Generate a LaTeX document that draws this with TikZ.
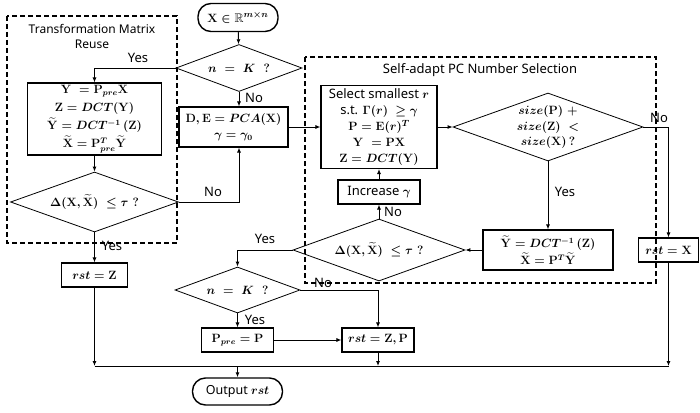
\documentclass[tikz,border=0pt]{standalone}
\usepackage{amsmath,amssymb}
\usepackage{fontspec}
\setsansfont{Noto Sans}
\usetikzlibrary{shapes.geometric,arrows.meta,calc}
\begin{document}
\begin{tikzpicture}[x=1pt,y=-1pt,
  font=\fontsize{12.5}{15}\selectfont\boldmath,
  box/.style={draw, line width=1.1pt, inner sep=0pt, align=center},
  term/.style={draw, line width=1.4pt, rounded corners=13pt, inner sep=0pt},
  dia/.style={draw, diamond, line width=0.8pt, inner sep=0pt},
  lab/.style={font=\sffamily\fontsize{13}{15}\selectfont, inner sep=0pt},
  arr/.style={line width=0.9pt, -{Latex[length=5pt,width=4pt]}},
  ln/.style={line width=0.9pt},
  grp/.style={draw, line width=1.1pt, dash pattern=on 5pt off 3pt}]
\useasboundingbox (0,0) rectangle (700,412);

% groups
\draw[grp] (7,16) rectangle (177,243);
\node[lab, align=center, font=\sffamily\fontsize{12}{15}\selectfont] (tl) at (92,36.5) {Transformation Matrix\\Reuse};
\draw[grp] (305,57) rectangle (656,283);
\node[lab] (tr) at (480,70) {Self-adapt PC Number Selection};

% nodes
\node[term, minimum width=80, minimum height=28] (start) at (238,17.5) {$\mathbf{X}\in\mathbb{R}^{m\times n}$};
\node[dia, minimum width=126, minimum height=47] (d1) at (239,68) {};
\node at (d1) {$n\ =\ K\ \ ?$};

\node[box, minimum width=134, minimum height=72, font=\fontsize{12}{18}\selectfont\boldmath] (b1) at (94.5,119) {$\mathbf{Y}\ =\mathbf{P}_{pre}\mathbf{X}$\\ $\mathbf{Z}=DCT(\mathbf{Y})$\\ $\widetilde{\mathbf{Y}}=DCT^{-1}\,(\mathbf{Z})$\\ $\widetilde{\mathbf{X}}=\mathbf{P}_{pre}^{T}\widetilde{\mathbf{Y}}$};
\node[dia, minimum width=168, minimum height=60] (d2) at (94.5,202) {};
\node[font=\fontsize{12.5}{15}\selectfont\boldmath] at (d2) {$\Delta(\mathbf{X},\widetilde{\mathbf{X}})\;\le\tau\ ?$};

\node[box, minimum width=109, minimum height=40, font=\fontsize{12}{16}\selectfont\boldmath] (de) at (233.5,127) {$\mathbf{D},\mathbf{E}=PCA(\mathbf{X})$\\ $\gamma=\gamma_0$};

\node[box, minimum width=116, minimum height=83, font=\fontsize{12.5}{16}\selectfont\boldmath] (sel) at (379,127) {\sffamily\fontsize{13}{16}\selectfont Select smallest $r$\\ \sffamily\fontsize{13}{16}\selectfont s.t. $\Gamma(r)\ \ge\gamma$\\ $\mathbf{P}=\mathbf{E}(r)^{T}$\\ $\mathbf{Y}\ =\mathbf{PX}$\\ $\mathbf{Z}=DCT(\mathbf{Y})$};
\node[box, minimum width=82, minimum height=24, font=\sffamily\fontsize{13}{15}\selectfont\boldmath] (inc) at (379,192) {Increase $\gamma$};
\node[dia, minimum width=172, minimum height=62] (d3) at (379,250) {};
\node[font=\fontsize{12.5}{15}\selectfont\boldmath] at (d3) {$\Delta(\mathbf{X},\widetilde{\mathbf{X}})\;\le\tau\ ?$};

\node[dia, minimum width=190, minimum height=68] (d4) at (548,127) {};
\node[align=center, font=\fontsize{12.5}{15.5}\selectfont\boldmath] at (d4) {$size(\mathbf{P})\ +$\\ $size(\mathbf{Z})\ <$\\ $size(\mathbf{X})\,?$};
\node[box, minimum width=130, minimum height=40, font=\fontsize{12}{17}\selectfont\boldmath] (bY) at (548,250) {$\widetilde{\mathbf{Y}}=DCT^{-1}\,(\mathbf{Z})$\\ $\widetilde{\mathbf{X}}=\mathbf{P}^{T}\widetilde{\mathbf{Y}}$};
\node[box, minimum width=60, minimum height=24, font=\fontsize{12}{15}\selectfont\boldmath] (rstX) at (668.5,250) {$rst=\mathbf{X}$};

\node[box, minimum width=66, minimum height=24] (rstZ) at (94.5,275) {$rst=\mathbf{Z}$};
\node[dia, minimum width=125, minimum height=46] (d5) at (237.5,290) {};
\node at (d5) {$n\ =\ K\ \ ?$};
\node[box, minimum width=72, minimum height=24, font=\fontsize{12}{15}\selectfont\boldmath] (ppre) at (237.5,340) {$\mathbf{P}_{pre}=\mathbf{P}$};
\node[box, minimum width=72, minimum height=24, font=\fontsize{12}{15}\selectfont\boldmath] (rstZP) at (378,340) {$rst=\mathbf{Z},\mathbf{P}$};
\node[term, minimum width=90, minimum height=27, font=\sffamily\fontsize{12.5}{15}\selectfont\boldmath] (out) at (237.5,391.5) {Output $rst$};

% connectors
\draw[arr] (start) -- (d1);
\draw[arr] (d1.west) -| (b1.north);
\draw[arr] (d1.south) -- (d1.south |- de.north);
\draw[arr] (b1) -- (d2);
\draw[arr] (d2.east) -| (d1.south |- de.south);
\draw[arr] (d2.south) -- (rstZ.north);
\draw[arr] (de.east) -- (sel.west);
\draw[arr] (sel.east) -- (d4.west);
\draw[arr] (d4.south) -- (bY.north);
\draw[arr] (d4.east) -| (rstX.north);
\draw[arr] (bY.west) -- (d3.east);
\draw[arr] (d3.north) -- (inc.south);
\draw[arr] (inc.north) -- (sel.south);
\draw[arr] (d3.west) -| (d5.north);
\draw[arr] (d5.east) -| (rstZP.north);
\draw[arr] (d5.south) -- (ppre.north);
\draw[arr] (ppre.east) -- (rstZP.west);

\coordinate (bl) at (94.5,366);
\coordinate (br) at (668.5,366);
\draw[arr] (rstZ.south) -- (bl);
\draw[ln] (bl) -- (br);
\draw[arr] (rstX.south) -- (br);
\draw[arr] (rstZP.south) -- (rstZP.south |- bl);
\draw[arr] (out.north |- bl) -- (out.north);

% labels
\node[lab] at (138,58) {Yes};
\node[lab] at (254,98) {No};
\node[lab] at (213,192) {No};
\node[lab] at (112,246) {Yes};
\node[lab] at (393,212) {No};
\node[lab] at (265,239) {Yes};
\node[lab] at (659,118) {No};
\node[lab] at (565,192) {Yes};
\node[lab] at (323,283) {No};
\node[lab] at (255,320) {Yes};
\end{tikzpicture}
\end{document}
